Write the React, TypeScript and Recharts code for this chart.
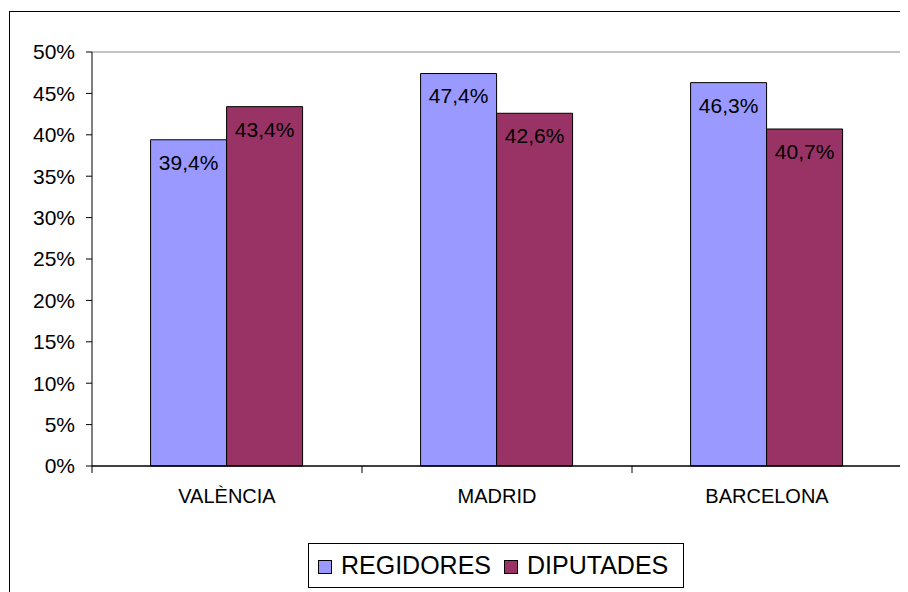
import React from "react";
import {
  BarChart,
  Bar,
  XAxis,
  YAxis,
  Legend,
  LabelList,
} from "recharts";

const categories = ["VALÈNCIA", "MADRID", "BARCELONA"];
const regidores = [39.4, 47.4, 46.3];
const diputades = [43.4, 42.6, 40.7];
const yTicks = [0, 5, 10, 15, 20, 25, 30, 35, 40, 45, 50];
const seriesNames = ["REGIDORES", "DIPUTADES"];
const seriesColors = ["#9999FF", "#993366"];

const data = categories.map((c, i) => ({
  name: c,
  regidores: regidores[i],
  diputades: diputades[i],
}));

const FONT = '"Liberation Sans", Arial, Helvetica, sans-serif';

const fmtLabel = (v: any) => String(v).replace(".", ",") + "%";

const CategoryTick = (props: any) => {
  const { x, y, payload, index, visibleTicksCount } = props;
  const half = payload && typeof payload.offset === "number" ? payload.offset : 0;
  const isLast = index === (visibleTicksCount ?? categories.length) - 1;
  return (
    <g>
      {half > 0 && (
        <line x1={x - half} x2={x - half} y1={y} y2={y + 7} stroke="#000" strokeWidth={1} />
      )}
      {half > 0 && isLast && (
        <line x1={x + half} x2={x + half} y1={y} y2={y + 7} stroke="#000" strokeWidth={1} />
      )}
      <text
        x={x}
        y={y + 23}
        dy="0.71em"
        textAnchor="middle"
        fill="#000"
        fontSize={20}
        fontFamily={FONT}
      >
        {payload.value}
      </text>
    </g>
  );
};

const LegendContent = () => (
  <div
    style={{
      boxSizing: "border-box",
      width: 376,
      height: 45,
      border: "1px solid #000",
      background: "#fff",
      display: "flex",
      alignItems: "center",
      paddingLeft: 9,
      fontFamily: FONT,
      fontSize: 25,
      color: "#000",
    }}
  >
    {seriesNames.map((n, i) => (
      <div key={n} style={{ display: "flex", alignItems: "center", marginRight: 13 }}>
        <span
          style={{
            display: "inline-block",
            boxSizing: "border-box",
            width: 14,
            height: 14,
            border: "1px solid #000",
            background: seriesColors[i],
            marginRight: 9,
            marginTop: 3,
          }}
        />
        <span style={{ lineHeight: "25px" }}>{n}</span>
      </div>
    ))}
  </div>
);

export default function App() {
  return (
    <div style={{ position: "relative", width: 900, height: 584, overflow: "hidden" }}>
      <div
        style={{
          position: "absolute",
          left: 1,
          top: 3,
          width: 1000,
          height: 1000,
          border: "1px solid #000",
        }}
      />
      <BarChart
        width={900}
        height={584}
        data={data}
        margin={{ top: 43, right: 5, left: 0, bottom: 125 }}
        barCategoryGap="21.7%"
        barGap={0}
        style={{ fontFamily: FONT }}
      >
        <XAxis
          dataKey="name"
          xAxisId={0}
          height={1}
          axisLine={{ stroke: "#000", strokeWidth: 1.5 }}
          tickLine={false}
          tickSize={0}
          tickMargin={0}
          interval={0}
          tick={<CategoryTick />}
        />
        <XAxis
          xAxisId="t"
          orientation="top"
          height={1}
          axisLine={{ stroke: "#888" }}
          tickLine={false}
          tick={false}
        />
        <YAxis
          yAxisId={0}
          width={84}
          domain={[0, 50]}
          ticks={yTicks}
          interval={0}
          tickFormatter={(v: number) => `${v}%`}
          axisLine={{ stroke: "#000" }}
          tickLine={{ stroke: "#000" }}
          tickSize={6}
          tickMargin={11}
          tick={{ fill: "#000", fontSize: 21, fontFamily: FONT }}
        />
        <YAxis
          yAxisId="r"
          orientation="right"
          width={1}
          domain={[0, 1]}
          axisLine={{ stroke: "#888" }}
          tickLine={false}
          tick={false}
        />
        <Legend
          layout="horizontal"
          verticalAlign="middle"
          align="center"
          content={<LegendContent />}
          wrapperStyle={{ left: 300, top: 535, width: 376, height: 45 }}
        />
        <Bar
          dataKey="regidores"
          name={seriesNames[0]}
          fill={seriesColors[0]}
          stroke="#000"
          strokeWidth={1}
          isAnimationActive={false}
        >
          <LabelList
            dataKey="regidores"
            position="insideTop"
            offset={15}
            formatter={fmtLabel}
            style={{ fill: "#000", fontSize: 21, fontFamily: FONT }}
          />
        </Bar>
        <Bar
          dataKey="diputades"
          name={seriesNames[1]}
          fill={seriesColors[1]}
          stroke="#000"
          strokeWidth={1}
          isAnimationActive={false}
        >
          <LabelList
            dataKey="diputades"
            position="insideTop"
            offset={15}
            formatter={fmtLabel}
            style={{ fill: "#000", fontSize: 21, fontFamily: FONT }}
          />
        </Bar>
      </BarChart>
    </div>
  );
}
